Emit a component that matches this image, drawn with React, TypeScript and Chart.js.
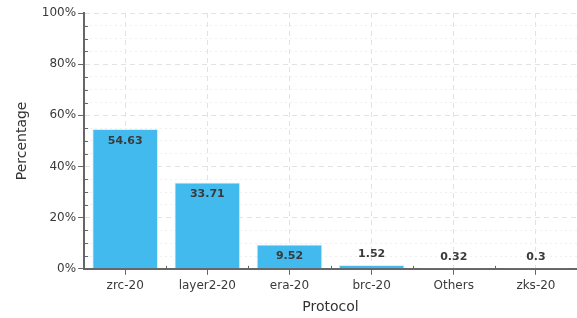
import React, { useEffect, useRef } from "react";
import { Chart, registerables } from "chart.js";

Chart.register(...registerables);

const categories = ["zrc-20", "layer2-20", "era-20", "brc-20", "Others", "zks-20"];
const percentages = [54.63, 33.71, 9.52, 1.52, 0.32, 0.3];
const yMajorStep = 20;
const yMinorStep = 5;

const FONT = "'DejaVu Sans', Verdana, sans-serif";

const labelPlugin = {
  id: "barLabels",
  afterDatasetsDraw(chart: any) {
    const ctx = chart.ctx;
    const meta = chart.getDatasetMeta(0);
    ctx.save();
    ctx.font = `bold 11px ${FONT}`;
    ctx.fillStyle = "#3a3a3a";
    ctx.textAlign = "center";
    ctx.textBaseline = "middle";
    meta.data.forEach((bar: any, i: number) => {
      const v = percentages[i];
      const h = bar.base - bar.y;
      const y = h > 20 ? bar.y + 12 : bar.y - 11;
      ctx.fillText(String(v), bar.x, y);
    });
    ctx.restore();
  },
};

const minorTickPlugin = {
  id: "minorTicks",
  afterDraw(chart: any) {
    const ctx = chart.ctx;
    const ys = chart.scales.y;
    const xs = chart.scales.x;
    const area = chart.chartArea;
    ctx.save();
    ctx.strokeStyle = "#666";
    ctx.lineWidth = 1;
    for (let v = yMinorStep; v < 100; v += yMinorStep) {
      if (v % yMajorStep === 0) continue;
      const y = Math.round(ys.getPixelForValue(v)) + 0.5;
      ctx.beginPath();
      ctx.moveTo(area.left, y);
      ctx.lineTo(area.left + 4, y);
      ctx.stroke();
    }
    for (let i = 0; i < categories.length - 1; i++) {
      const x = Math.round((xs.getPixelForValue(i) + xs.getPixelForValue(i + 1)) / 2) + 0.5;
      ctx.beginPath();
      ctx.moveTo(x, area.bottom);
      ctx.lineTo(x, area.bottom - 3);
      ctx.stroke();
    }
    ctx.restore();
  },
};

const isMajor = (v: number) => v % yMajorStep === 0;

export default function App() {
  const ref = useRef<HTMLCanvasElement | null>(null);
  useEffect(() => {
    document.body.style.margin = "0";
    const chart = new Chart(ref.current!, {
      type: "bar",
      data: {
        labels: categories,
        datasets: [
          {
            data: percentages,
            backgroundColor: "#42baee",
            borderColor: "rgba(215,240,252,1)",
            borderWidth: 1,
            categoryPercentage: 0.8,
            barPercentage: 1,
          },
        ],
      },
      options: {
        animation: false,
        responsive: false,
        maintainAspectRatio: false,
        layout: { padding: { top: 13, right: -3, left: 14, bottom: 2 } },
        plugins: { legend: { display: false }, tooltip: { enabled: false } },
        scales: {
          x: {
            grid: {
              color: "#e2e2e2",
              tickColor: "#666",
              tickLength: 6,
              offset: false,
            },
            border: { color: "#666", width: 2, dash: [5, 4] },
            ticks: { color: "#3a3a3a", font: { family: FONT, size: 12 }, padding: 4 },
            title: {
              display: true,
              text: "Protocol",
              color: "#333",
              font: { family: FONT, size: 14 },
              padding: { top: 2, bottom: 0 },
            },
          },
          y: {
            min: 0,
            max: 100,
            ticks: {
              stepSize: yMinorStep,
              autoSkip: false,
              color: "#3a3a3a",
              font: { family: FONT, size: 12 },
              padding: 2,
              callback: (v: any) => (isMajor(v) ? v + "%" : ""),
            },
            grid: {
              color: (c: any) => (c.tick && isMajor(c.tick.value) ? "#e2e2e2" : "#efefef"),
              tickColor: (c: any) => (c.tick && isMajor(c.tick.value) ? "#666" : "rgba(0,0,0,0)"),
              tickLength: 6,
            },
            border: {
              color: "#666",
              width: 2,
              dash: (c: any) => (c.tick && isMajor(c.tick.value) ? [5, 4] : [2, 3]),
            },
            title: {
              display: true,
              text: "Percentage",
              color: "#333",
              font: { family: FONT, size: 14 },
              padding: { top: 0, bottom: 9 },
            },
          },
        },
      },
      plugins: [labelPlugin, minorTickPlugin],
    } as any);
    return () => chart.destroy();
  }, []);
  return (
    <div style={{ width: 577, height: 318 }}>
      <canvas ref={ref} width={577} height={318} style={{ display: "block" }} />
    </div>
  );
}
